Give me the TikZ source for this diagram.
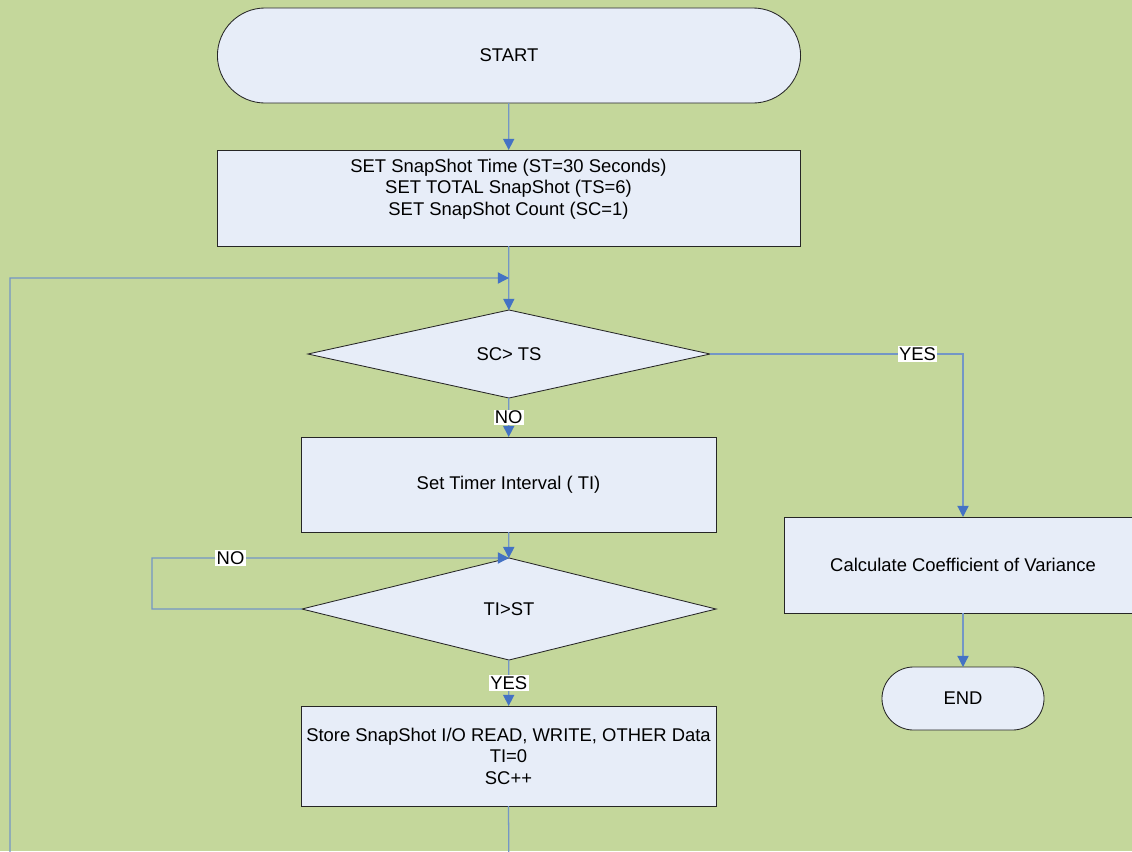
\documentclass[tikz,border=0pt]{standalone}
\usepackage{fontspec}
\setmainfont{Liberation Sans}
\usetikzlibrary{shapes.geometric,arrows.meta}

\definecolor{bgreen}{RGB}{196,215,155}
\definecolor{boxfill}{RGB}{231,237,248}
\definecolor{flowline}{RGB}{115,150,198}
\definecolor{flowtip}{RGB}{68,114,196}

\tikzset{
  box/.style={draw=black!85, fill=boxfill, line width=0.6pt, align=center, outer sep=0pt},
  term/.style={box, rounded corners=#1},
  proc/.style={box, rectangle},
  test/.style={box, diamond, inner sep=0pt},
  conn/.style={draw=flowline, line width=0.9pt,
    -{Triangle[color=flowtip,length=0.28cm,width=0.28cm]}},
  lbl/.style={fill=white, inner sep=1pt, text=black}
}

\begin{document}
\begin{tikzpicture}[x=0.025cm, y=-0.025cm, font=\fontsize{13.1pt}{15.3pt}\selectfont]
    \useasboundingbox (0,0) rectangle (1132,851);
    \fill[bgreen] (0,0) rectangle (1132,851);
    \clip (0,0) rectangle (1132,851);

    \node[term=1.19cm, minimum width=14.575cm, minimum height=2.375cm] (start) at (509,55.5) {START};
    \node[proc, minimum width=14.575cm, minimum height=2.4cm] (setvars) at (508.5,198)
        {SET SnapShot Time (ST=30 Seconds)\\SET TOTAL SnapShot (TS=6)\\SET SnapShot Count (SC=1)\\ };
    \node[test, minimum width=10.05cm, minimum height=2.2cm] (chkcount) at (509,354) {SC> TS};
    \node[proc, minimum width=10.375cm, minimum height=2.375cm] (settimer) at (508.5,484.5) {Set Timer Interval ( TI)};
    \node[test, minimum width=10.35cm, minimum height=2.55cm] (chktimer) at (509,609) {TI>ST};
    \node[proc, minimum width=10.375cm, minimum height=2.5cm] (store) at (508.5,756)
        {Store SnapShot I/O READ, WRITE, OTHER Data\\TI=0\\SC++};
    \node[proc, minimum width=8.95cm, minimum height=2.4cm] (calccv) at (963,565) {Calculate Coefficient of Variance};
    \node[term=0.79cm, minimum width=4.05cm, minimum height=1.575cm] (stop) at (963,698.5) {END};

    \coordinate (join) at (509,278);
    \coordinate (noloop) at (152,558);
    \coordinate (back1) at (509,880);
    \coordinate (back2) at (10,880);

    \draw[conn] (start) -- (setvars);
    \draw[conn] (setvars) -- (chkcount);
    \draw[conn] (chkcount) -- node[lbl] {NO} (settimer);
    \draw[conn] (chkcount.east) -| node[lbl, pos=0.41] {YES} (calccv.north);
    \draw[conn] (calccv) -- (stop);
    \draw[conn] (settimer) -- (chktimer);
    \draw[conn] (chktimer.west) -| (noloop) -- node[lbl, pos=0.22] {NO} (chktimer.north);
    \draw[conn] (chktimer) -- node[lbl] {YES} (store);
    \draw[conn] (store.south) -- (back1) -- (back2) |- (join);
\end{tikzpicture}
\end{document}
